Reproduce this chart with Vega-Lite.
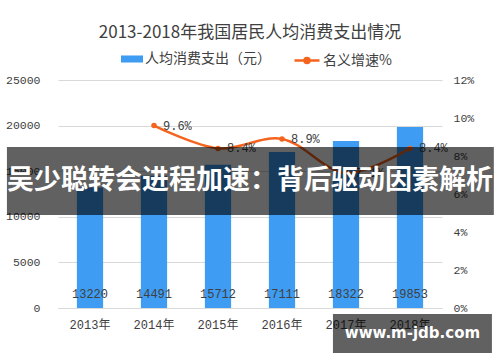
{
  "$schema": "https://vega.github.io/schema/vega-lite/v6.json",
  "width": 384,
  "height": 228,
  "autosize": "none",
  "padding": {"left": 58, "top": 80, "right": 58, "bottom": 54},
  "background": "white",
  "title": {
    "text": "2013-2018年我国居民人均消费支出情况",
    "font": "Noto Sans CJK SC",
    "fontSize": 17,
    "fontWeight": "normal",
    "color": "#404040",
    "anchor": "middle",
    "frame": "group",
    "offset": 5
  },
  "data": {
    "values": [
      {"year": "2013年", "spend": 13220, "rate": null, "rateLabel": ""},
      {"year": "2014年", "spend": 14491, "rate": 9.6, "rateLabel": "9.6%"},
      {"year": "2015年", "spend": 15712, "rate": 8.4, "rateLabel": "8.4%"},
      {"year": "2016年", "spend": 17111, "rate": 8.9, "rateLabel": "8.9%"},
      {"year": "2017年", "spend": 18322, "rate": 7.1, "rateLabel": "7.1%"},
      {"year": "2018年", "spend": 19853, "rate": 8.4, "rateLabel": "8.4%"}
    ]
  },
  "config": {
    "view": {"stroke": null},
    "axis": {"labelFont": "Liberation Mono, Noto Sans CJK SC", "labelColor": "#404040", "titleFont": "Noto Sans CJK SC", "labelOverlap": false},
    "axisRight": {"labelOverlap": false},
    "axisQuantitative": {"labelOverlap": false},
    "legend": {"labelFont": "Noto Sans CJK SC", "labelFontSize": 14, "labelColor": "#404040", "padding": 0}
  },
  "layer": [
    {
      "layer": [
        {
          "mark": {"type": "bar", "width": {"band": 0.41}},
          "encoding": {
            "x": {"field": "year", "type": "nominal", "sort": null, "scale": {"paddingInner": 0, "paddingOuter": 0},
              "axis": {"title": null, "labelAngle": 0, "labelFontSize": 12, "ticks": false, "labelPadding": 11, "domainColor": "#d9d9d9", "domainWidth": 1}},
            "y": {"field": "spend", "type": "quantitative", "scale": {"domain": [0, 25000], "nice": false},
              "axis": {"title": null, "values": [0, 5000, 10000, 15000, 20000, 25000], "format": "d", "grid": true, "gridColor": "#d9d9d9", "domain": false, "ticks": false, "labelPadding": 18, "labelFontSize": 11.5, "labelOverlap": false}},
            "fill": {"datum": "人均消费支出（元）", "type": "nominal", "scale": {"range": ["#3E9CF3"]},
              "legend": {"title": null, "orient": "none", "legendX": 63, "legendY": -32, "symbolType": "M-1,-0.32H1V0.32H-1Z", "symbolSize": 484, "symbolStrokeWidth": 0, "symbolFillColor": "#3E9CF3", "labelOffset": 2}}
          }
        },
        {
          "mark": {"type": "text", "baseline": "middle", "dy": -14, "font": "Liberation Mono", "fontSize": 12, "color": "#404040"},
          "encoding": {
            "x": {"field": "year", "type": "nominal", "sort": null},
            "y": {"datum": 0, "type": "quantitative"},
            "text": {"field": "spend", "type": "quantitative", "format": "d"}
          }
        }
      ]
    },
    {
      "transform": [{"filter": "datum.rate != null"}],
      "encoding": {
        "x": {"field": "year", "type": "nominal", "sort": null, "scale": {"domain": ["2013年", "2014年", "2015年", "2016年", "2017年", "2018年"], "paddingInner": 0, "paddingOuter": 0}, "axis": null},
        "y": {"field": "rate", "type": "quantitative", "scale": {"domain": [0, 12], "nice": false},
          "axis": {"orient": "right", "title": null, "values": [0, 2, 4, 6, 8, 10, 12], "labelExpr": "datum.value + '%'", "grid": false, "domain": false, "ticks": false, "labelPadding": 11, "labelFontSize": 11.5, "labelOverlap": false}}
      },
      "layer": [
        {
          "mark": {"type": "line", "interpolate": "catmull-rom", "strokeWidth": 2.5, "color": "#F5641E"},
          "encoding": {
            "stroke": {"datum": "名义增速%", "type": "nominal", "scale": {"range": ["#F5641E"]},
              "legend": {"title": null, "orient": "none", "legendX": 235, "legendY": -33.5, "symbolType": "M-1,0H1M-0.2,0A0.2,0.2,0,1,0,0.2,0A0.2,0.2,0,1,0,-0.2,0Z", "symbolSize": 625, "symbolStrokeWidth": 2.5, "symbolFillColor": "#F5641E", "labelOffset": 2}}
          }
        },
        {
          "mark": {"type": "point", "filled": true, "size": 30, "color": "#F5641E", "opacity": 1},
          "encoding": {}
        },
        {
          "mark": {"type": "text", "align": "left", "baseline": "middle", "dx": 9, "font": "Liberation Mono", "fontSize": 12, "color": "#404040"},
          "encoding": {
            "text": {"field": "rateLabel"}
          }
        }
      ]
    },
    {
      "data": {"values": [{"label": "吴少聪转会进程加速：背后驱动因素解析"}]},
      "layer": [
        {
          "mark": {"type": "rect", "color": "black", "opacity": 0.62, "clip": false},
          "encoding": {
            "x": {"datum": -0.133, "type": "quantitative", "scale": {"domain": [0, 1], "nice": false, "zero": false}, "axis": null},
            "x2": {"datum": 1.135},
            "y": {"datum": 17650, "type": "quantitative", "scale": {"domain": [0, 25000], "nice": false}, "axis": null},
            "y2": {"datum": 10200}
          }
        },
        {
          "mark": {"type": "text", "color": "white", "font": "Noto Sans CJK SC", "fontWeight": "bold", "fontSize": 27, "baseline": "middle", "align": "center"},
          "encoding": {
            "x": {"datum": 0.5, "type": "quantitative"},
            "y": {"datum": 13925, "type": "quantitative"},
            "text": {"field": "label"}
          }
        }
      ]
    },
    {
      "data": {"values": [{"label": "www.m-jdb.com"}]},
      "layer": [
        {
          "mark": {"type": "rect", "color": "black", "opacity": 0.62, "clip": false},
          "encoding": {
            "x": {"datum": 0.716, "type": "quantitative", "scale": {"domain": [0, 1], "nice": false, "zero": false}, "axis": null},
            "x2": {"datum": 1.13},
            "y": {"datum": -658, "type": "quantitative", "scale": {"domain": [0, 25000], "nice": false}, "axis": null},
            "y2": {"datum": -4934}
          }
        },
        {
          "mark": {"type": "text", "color": "white", "font": "DejaVu Sans", "fontWeight": "bold", "fontSize": 15, "baseline": "middle", "align": "center"},
          "encoding": {
            "x": {"datum": 0.923, "type": "quantitative"},
            "y": {"datum": -2741, "type": "quantitative"},
            "text": {"field": "label"}
          }
        }
      ]
    }
  ],
  "resolve": {"scale": {"x": "independent", "y": "independent"}}
}
